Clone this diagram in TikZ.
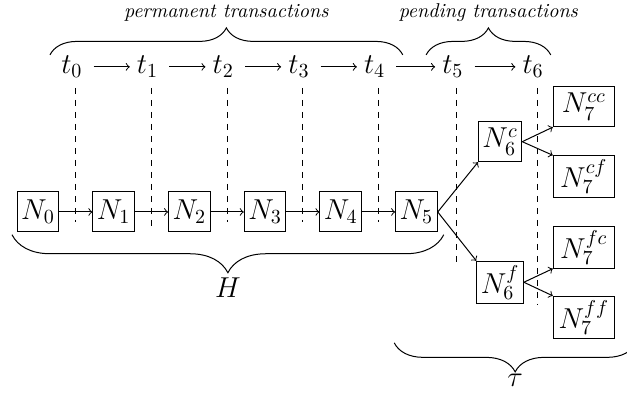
\documentclass[tikz,border=0pt]{standalone}
\usetikzlibrary{decorations.pathreplacing}
\begin{document}
\begin{tikzpicture}[
    line width=0.5pt,
    state/.style={draw, font=\Large, inner sep=2pt, minimum width=20.5pt, minimum height=20pt},
    wide/.style={state, minimum width=30.5pt},
    curly/.style={decorate, decoration={brace, amplitude=#1}},
  ]
  \useasboundingbox (-0.668,-3.198) rectangle (10.35,3.725);
  \foreach \i in {0,...,5} {
      \node[state] (N\i) at (\i*1.33,0) {$N_\i$};
    }
  \foreach \i/\j in {0/1,1/2,2/3,3/4,4/5} {
      \draw[->] (N\i) -- (N\j);
    }
  \foreach \i/\x/\b in {0/0.665/-0.18,1/1.995/-0.25,2/3.325/-0.18,3/4.655/-0.18,4/5.985/-0.18,5/7.36/-0.9,6/8.77/-1.63} {
      \node[font=\Large] (t\i) at (\x-0.07,2.55) {$t_\i$};
      \draw[dashed] (\x,2.18) -- (\x,\b);
    }
  \foreach \i/\j in {0/1,1/2,2/3,3/4,4/5,5/6} {
      \draw[->, shorten <=2pt] (t\i) -- (t\j);
    }
  \node[state] (N6c) at (8.12,1.235) {$N_6^c$};
  \node[state] (N6f) at (8.12,-1.235) {$N_6^f$};
  \node[wide] (N7cc) at (9.59,1.85) {$N_7^{cc}$};
  \node[wide] (N7cf) at (9.59,0.62) {$N_7^{cf}$};
  \node[wide] (N7fc) at (9.59,-0.62) {$N_7^{fc}$};
  \node[wide] (N7ff) at (9.59,-1.85) {$N_7^{ff}$};
  \draw[->] (N5.east) -- (N6c.south west);
  \draw[->] (N5.east) -- (N6f.north west);
  \draw[->] (N6c.east) -- (N7cc.south west);
  \draw[->] (N6c.east) -- (N7cf.north west);
  \draw[->] (N6f.east) -- (N7fc.south west);
  \draw[->] (N6f.east) -- (N7ff.north west);
  \draw[curly=13.5pt] (0.21,2.76) -- (6.41,2.76)
  node[midway, above=13pt] {\textit{permanent transactions}};
  \draw[curly=13.5pt] (6.82,2.76) -- (9.01,2.76)
  node[midway, above=13pt] {\textit{pending transactions}};
  \draw[curly=19pt] (7.13,-0.4) -- (-0.457,-0.4)
  node[midway, below=18pt, font=\Large] {$H$};
  \draw[curly=14.5pt] (10.51,-2.3) -- (6.26,-2.3)
  node[midway, below=12pt, font=\Large] {$\tau$};
\end{tikzpicture}
\end{document}
